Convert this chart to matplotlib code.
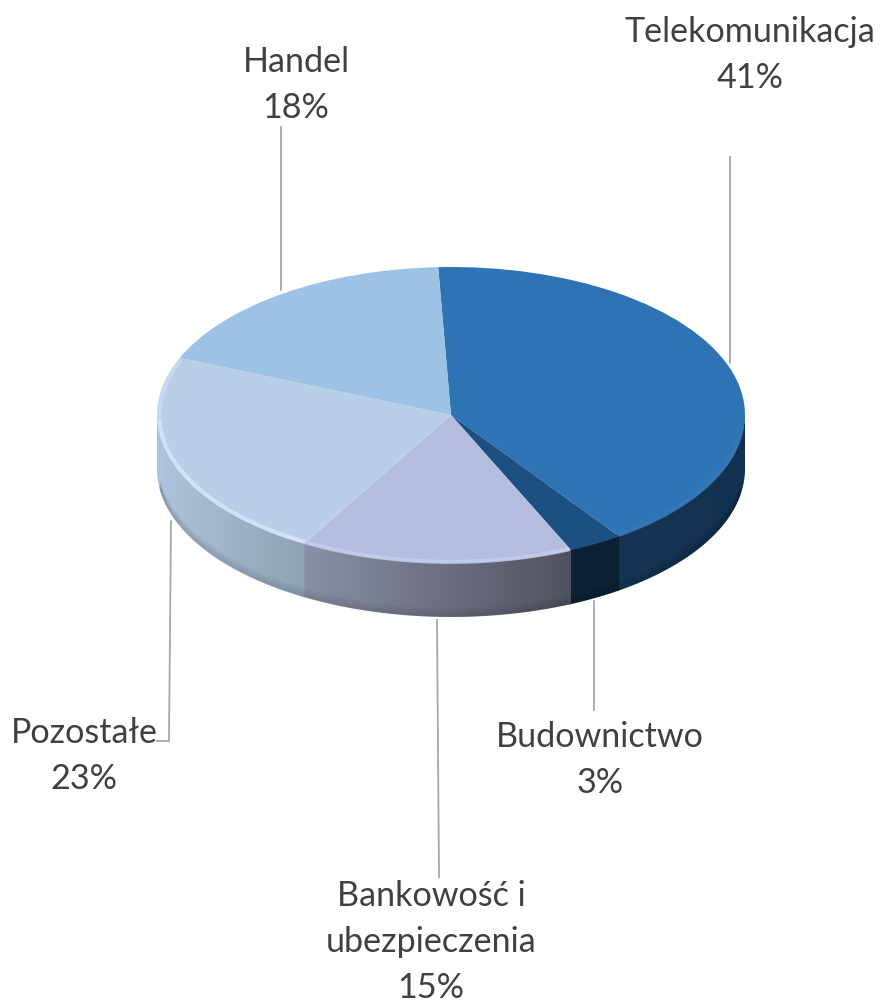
import numpy as np
import matplotlib
matplotlib.use("Agg")
import matplotlib.pyplot as plt
from matplotlib.patches import Polygon

plt.rcParams['font.family'] = ['Lato', 'DejaVu Sans']

categories = ["Telekomunikacja", "Budownictwo", "Bankowość i\nubezpieczenia", "Pozostałe", "Handel"]
values = [41, 3, 15, 23, 18]
top_colors = ["#2e74b5", "#1c4f82", "#b5bdde", "#b9cfe8", "#9cc2e5"]
side_left = ["#173454", "#0d2135", "#8b90a6", "#aec3dc", "#7f9fbc"]
side_right = ["#12304f", "#0d2135", "#50525f", "#8fa3b4", "#7f9fbc"]

# ellipse in pixels
cx, cy = 451, 415
rx, ry = 294, 148
depth = 54 / ry
start = -2.5

W, H = 880, 1005
fig = plt.figure(figsize=(8.8, 10.05), dpi=100)
ax = fig.add_axes([0, 0, 1, 1])

ax.pie(values, colors=top_colors, startangle=90 - start, counterclock=False,
       radius=1, wedgeprops={'linewidth': 0, 'zorder': 5})
ax.set_aspect('auto')
ax.axis('off')


def hex_rgb(c):
    return np.array(matplotlib.colors.to_rgb(c))


# side of the disc, one gradient per visible slice
edges = start + np.cumsum([0] + values) * 3.6
for i in range(len(values)):
    # angles go clockwise from the top; the wall is seen between 90 and 270
    t1 = max(edges[i], 90)
    t2 = min(edges[i + 1], 270)
    if t2 <= t1:
        continue
    # small overlap so no white seam shows between slices
    t = np.radians(np.linspace(t1, min(t2 + 0.5, 270), 120))
    x = np.sin(t)
    y = np.cos(t)
    pts = np.vstack([np.c_[x, y + 0.02], np.c_[x[::-1], y[::-1] - depth]])
    poly = Polygon(pts, closed=True, facecolor='none', edgecolor='none')
    ax.add_patch(poly)
    n = 64
    left = hex_rgb(side_left[i])
    right = hex_rgb(side_right[i])
    grad = np.array([left + (right - left) * k / (n - 1) for k in range(n)])[None, :, :]
    im = ax.imshow(grad, extent=[x.min(), x.max(), -2, 1], aspect='auto', zorder=2, interpolation='bilinear')
    im.set_clip_path(poly)

# imshow changes limits
ax.set_xlim(-cx / rx, (W - cx) / rx)
ax.set_ylim((cy - H) / ry, cy / ry)

# dark soft edge along the bottom of the wall
t = np.radians(np.linspace(100, 262, 300))
for k in range(1, 10):
    off = depth - k * 1.0 / ry
    ax.plot(np.sin(t), np.cos(t) - off, color='black', alpha=0.10 * (1 - k / 10), lw=1.0, zorder=3,
            solid_capstyle='butt')

# light bevel along the rim
bevel = [(210, 268, "#d5e4fa", 0.9), (268, 292, "#d5e4fa", 0.5), (156, 210, "#c6cdee", 0.8),
         (100, 145, "#3c7fbc", 0.35)]
for a, b, col, al in bevel:
    t = np.radians(np.linspace(a, b, 120))
    ax.plot(0.992 * np.sin(t), 0.992 * np.cos(t), color=col, alpha=al, lw=3.0, zorder=6,
            solid_capstyle='butt')

# labels and leader lines, in pixels
ov = fig.add_axes([0, 0, 1, 1])
ov.set_xlim(0, W)
ov.set_ylim(H, 0)
ov.axis('off')

pct = ["%d%%" % v for v in values]
label_pos = [(750, 55), (600, 760), (431, 942), (84, 756), (296, 85)]
for name, p, (lx, ly) in zip(categories, pct, label_pos):
    ov.text(lx, ly, name + "\n" + p, ha='center', va='center', fontsize=24.6,
            color='#404040', linespacing=1.55)

leaders = [
    ([730, 730], [157, 363]),
    ([594, 594], [601, 710]),
    ([437, 439], [620, 877]),
    ([171, 169, 157], [521, 741, 741]),
    ([281, 281], [127, 290]),
]
for lxs, lys in leaders:
    ov.plot(lxs, lys, color='#a6a6a6', lw=1.3, zorder=7)

fig.savefig("out.png", dpi=100)
